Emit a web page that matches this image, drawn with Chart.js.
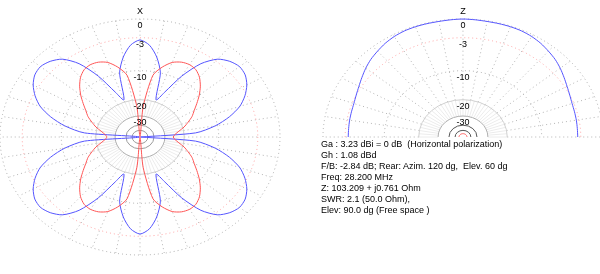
<!DOCTYPE html>
<html>
<head>
<meta charset="utf-8">
<script src="https://cdn.jsdelivr.net/npm/chart.js@4"></script>
<style>
  body { margin: 0; background: #fff; }
  #wrap { position: relative; width: 600px; height: 274px; }
  #info { position: absolute; left: 321px; top: 139px; font: 9px "Liberation Sans", Arial, sans-serif;
          line-height: 11px; white-space: pre; color: #000; }
</style>
</head>
<body>
<div id="wrap">
  <canvas id="myChart" width="600" height="274"></canvas>
  <div id="info"></div>
</div>
<script>
// horizontal plot (X), angle in degrees, gain in dB
var xAngles = [0, 5, 10, 15, 20, 25, 30, 35, 40, 45, 50, 55, 60, 65, 70, 75, 80, 85,
               90, 95, 100, 105, 110, 115, 120, 125, 130, 135, 140, 145, 150, 155, 160, 165, 170, 175,
               180, 185, 190, 195, 200, 205, 210, 215, 220, 225, 230, 235, 240, 245, 250, 255, 260, 265,
               270, 275, 280, 285, 290, 295, 300, 305, 310, 315, 320, 325, 330, 335, 340, 345, 350, 355];
var xBlue = [-99, -16, -10.5, -7.2, -4.8, -3.3, -2.2, -1.5, -1.3, -1.7, -2.6, -4.8, -9, -15, -19, -10, -6.5, -4.3,
             -3.4, -4.3, -6.5, -10, -19, -15, -9, -4.8, -2.6, -1.7, -1.3, -1.5, -2.2, -3.3, -4.8, -7.2, -10.5, -16,
             -99, -16, -10.5, -7.2, -4.8, -3.3, -2.2, -1.5, -1.3, -1.7, -2.6, -4.8, -9, -15, -19, -10, -6.5, -4.3,
             -3.4, -4.3, -6.5, -10, -19, -15, -9, -4.8, -2.6, -1.7, -1.3, -1.5, -2.2, -3.3, -4.8, -7.2, -10.5, -16];
var xRed = [-25, -24, -22, -19.5, -17.5, -15.5, -14, -12.2, -10.3, -8.6, -7.2, -6.3, -6, -6.2, -6.9, -8.5, -11, -23.5,
            -99, -23.5, -11, -8.5, -6.9, -6.2, -6, -6.3, -7.2, -8.6, -10.3, -12.2, -14, -15.5, -17.5, -19.5, -22, -24,
            -25, -24, -22, -19.5, -17.5, -15.5, -14, -12.2, -10.3, -8.6, -7.2, -6.3, -6, -6.2, -6.9, -8.5, -11, -23.5,
            -99, -23.5, -11, -8.5, -6.9, -6.2, -6, -6.3, -7.2, -8.6, -10.3, -12.2, -14, -15.5, -17.5, -19.5, -22, -24];

// vertical plot (Z), elevation 0..180
var zAngles = [0, 5, 10, 15, 20, 25, 30, 35, 40, 45, 50, 55, 60, 65, 70, 75, 80, 85, 90,
               95, 100, 105, 110, 115, 120, 125, 130, 135, 140, 145, 150, 155, 160, 165, 170, 175, 180];
var zBlue = [-3.45, -3.45, -3.4, -3.35, -3.25, -3, -2.65, -2.2, -1.7, -1.25, -0.9, -0.55, -0.3, -0.15, -0.1, -0.1, -0.1, -0.05, 0,
             -0.05, -0.1, -0.1, -0.1, -0.15, -0.3, -0.55, -0.9, -1.25, -1.7, -2.2, -2.65, -3, -3.25, -3.35, -3.4, -3.45, -3.45];
var zRed = [-62, -62, -62, -62, -62, -62, -62, -62, -62, -62, -62, -62, -62, -62, -62, -62, -62, -62, -62,
            -62, -62, -62, -62, -62, -62, -62, -62, -62, -62, -62, -62, -62, -62, -62, -62, -62, -62];

var ringLevels = [0, -3, -10, -20, -30, -40, -50];
var ringLabels = ['0', '-3', '-10', '-20', '-30'];
var plotTitles = ['X', 'Z'];

var infoLines = [
    'Ga : 3.23 dBi = 0 dB  (Horizontal polarization)',
    'Gh : 1.08 dBd',
    'F/B: -2.84 dB; Rear: Azim. 120 dg,  Elev. 60 dg',
    'Freq: 28.200 MHz',
    'Z: 103.209 + j0.761 Ohm',
    'SWR: 2.1 (50.0 Ohm),',
    'Elev: 90.0 dg (Free space )'
];

document.getElementById('info').textContent = infoLines.join('\n');

// log scale used by the plot: 0 dB at radius 1
const rad = db => Math.pow(10, db / 40);

// plot centres in data units
const plots = [
    { cx: 0, half: false, inner: '#9a9a9a' },
    { cx: 2.307, half: true, inner: '#555' }
];

const toPoints = (angs, vals, cx, close) => {
    const pts = angs.map((a, i) => ({
        x: cx + rad(vals[i]) * Math.cos(a * Math.PI / 180),
        y: rad(vals[i]) * Math.sin(a * Math.PI / 180)
    }));
    if (close) pts.push(pts[0]);
    return pts;
}

const ringStyle = [
    { color: '#aaa', dash: [1, 3] },
    { color: '#ffa0a0', dash: [1, 3] },
    { color: '#aaa', dash: [1, 3] },
    { color: '#d0d0d0', dash: [] },
    { color: '#b0b0b0', dash: [] },
    { color: null, dash: [] },
    { color: null, dash: [] }
];

const polarGrid = {
    id: 'polarGrid',
    beforeDatasetsDraw(chart) {
        const { ctx, scales: { x, y } } = chart;
        ctx.save();
        ctx.lineWidth = 1;
        plots.forEach((p, k) => {
            const cx = x.getPixelForValue(p.cx);
            const cy = y.getPixelForValue(0);
            const sx = x.getPixelForValue(p.cx + 1) - cx;
            const sy = cy - y.getPixelForValue(1);
            const end = p.half ? 180 : 355;

            // radial lines
            ctx.strokeStyle = '#ececec';
            ctx.setLineDash([]);
            for (let a = 0; a <= end; a += 5) {
                const t = a * Math.PI / 180;
                const r1 = rad(-30), r2 = rad(-20);
                ctx.beginPath();
                ctx.moveTo(cx + sx * r1 * Math.cos(t), cy - sy * r1 * Math.sin(t));
                ctx.lineTo(cx + sx * r2 * Math.cos(t), cy - sy * r2 * Math.sin(t));
                ctx.stroke();
            }
            ctx.strokeStyle = '#b4b4b4';
            ctx.setLineDash([1, 3]);
            for (let a = 0; a <= end; a += 10) {
                const t = a * Math.PI / 180;
                const r1 = rad(-20), r2 = 1;
                ctx.beginPath();
                ctx.moveTo(cx + sx * r1 * Math.cos(t), cy - sy * r1 * Math.sin(t));
                ctx.lineTo(cx + sx * r2 * Math.cos(t), cy - sy * r2 * Math.sin(t));
                ctx.stroke();
            }

            // rings
            ringLevels.forEach((lv, i) => {
                const st = ringStyle[i];
                const r = rad(lv);
                ctx.strokeStyle = st.color || p.inner;
                ctx.setLineDash(st.dash);
                ctx.beginPath();
                if (p.half) ctx.ellipse(cx, cy, sx * r, sy * r, 0, Math.PI, 2 * Math.PI);
                else ctx.ellipse(cx, cy, sx * r, sy * r, 0, 0, 2 * Math.PI);
                ctx.stroke();
            });
        });
        ctx.restore();
    },
    afterDatasetsDraw(chart) {
        const { ctx, scales: { x, y } } = chart;
        ctx.save();
        ctx.fillStyle = '#000';
        ctx.font = '9px "Liberation Sans", Arial, sans-serif';
        ctx.textAlign = 'center';
        ctx.textBaseline = 'middle';
        plots.forEach((p, k) => {
            const cx = x.getPixelForValue(p.cx);
            const cy = y.getPixelForValue(0);
            const sy = cy - y.getPixelForValue(1);
            ctx.fillText(plotTitles[k], cx, cy - sy - 7);
            ringLabels.forEach((lb, i) => {
                ctx.fillText(lb, cx, cy - sy * rad(ringLevels[i]) + 6.5);
            });
        });
        ctx.restore();
    }
};

const line = (data, color) => ({
    data: data,
    showLine: true,
    borderColor: color,
    borderWidth: 1,
    pointRadius: 0,
    tension: 0.25,
    fill: false
});

var ctx = document.getElementById('myChart').getContext('2d');
var chart = new Chart(ctx, {
    type: 'scatter',
    data: {
        datasets: [
            line(toPoints(xAngles, xRed, plots[0].cx, true), 'rgb(255,85,85)'),
            line(toPoints(xAngles, xBlue, plots[0].cx, true), 'rgb(85,85,255)'),
            line(toPoints(zAngles, zRed, plots[1].cx, false), 'rgb(255,85,85)'),
            line(toPoints(zAngles, zBlue, plots[1].cx, false), 'rgb(85,85,255)')
        ]
    },
    options: {
        responsive: false,
        animation: false,
        layout: { padding: 0 },
        scales: {
            x: { type: 'linear', min: -1, max: 600 / 140 - 1, display: false },
            y: { type: 'linear', min: -137 / 118, max: 137 / 118, display: false }
        },
        plugins: { legend: { display: false }, tooltip: { enabled: false } }
    },
    plugins: [polarGrid]
});
</script>
</body>
</html>
